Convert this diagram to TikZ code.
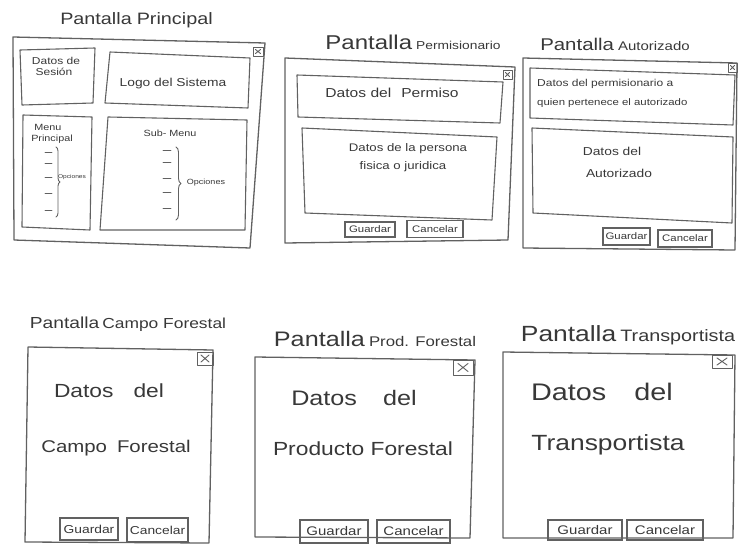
\documentclass[tikz,border=0pt]{standalone}
\usepackage{fontspec}
\newfontfamily\hand[FakeStretch=1.2]{Liberation Sans}
\usetikzlibrary{decorations.pathreplacing}
\tikzset{
  ink/.style={draw=black!62, line width=1.1pt, line join=round, line cap=round},
  win/.style={ink, line width=1.3pt},
  fz/.style={font=\hand\fontsize{#1}{#1}\selectfont},
  txt/.style={text=black!78, inner sep=0pt},
  btn/.style={draw=black!62, line width=1.1pt, inner sep=0pt, text=black!78},
  closebox/.style={ink, line width=0.9pt},
}
\begin{document}
\begin{tikzpicture}[x=1pt,y=-1pt]
\useasboundingbox (0,0) rectangle (747,551);

% ---------- Panel 1: Pantalla Principal ----------
\node[txt, fz=16.5, anchor=base] (t1) at (136.5,25) {Pantalla\hspace{5pt}Principal};
\draw[win] (13,37) -- (265,43) -- (250,248) -- (14,240) -- cycle;
\draw[closebox] (253,47) rectangle (263,56);
\draw[closebox] (255.5,49.5) -- (260.5,53.5) (255.5,53.5) -- (260.5,49.5);
\draw[ink] (20,50) -- (95,48) -- (93,103) -- (22,105) -- cycle;
\draw[ink] (110,52) -- (250,58) -- (248,108) -- (105,103) -- cycle;
\draw[ink] (23,115) -- (92,117) -- (90,230) -- (22,227) -- cycle;
\draw[ink] (108,117) -- (247,120) -- (245,230) -- (100,230) -- cycle;
\node[txt, fz=10] (ses1) at (56,64) [anchor=base] {Datos de};
\node[txt, fz=10] (ses2) at (54,76) [anchor=base] {Sesión};
\node[txt, fz=11.5] (logo) at (173,87) [anchor=base] {Logo del Sistema};
\node[txt, fz=9] (menu1) at (48,130) [anchor=base] {Menu};
\node[txt, fz=9] (menu2) at (52,141) [anchor=base] {Principal};
\node[txt, fz=9] (sub) at (170,136) [anchor=base] {Sub- Menu};
\foreach \y in {152,163,177,193,210} \draw[ink, line width=0.9pt] (45,\y) -- (52,\y);
\foreach \y in {150,162,178,192,208} \draw[ink, line width=0.9pt] (163,\y) -- (171,\y);
\draw[ink, line width=0.9pt, decorate, decoration={brace, amplitude=4pt}] (56,147) -- (56,217);
\draw[ink, line width=0.9pt, decorate, decoration={brace, amplitude=5pt}] (176,147) -- (176,220);
\node[txt, fz=5.5] (op1) at (72,177) {Opciones};
\node[txt, fz=7.5] (op2) at (206,183) {Opciones};

% ---------- Panel 2: Pantalla Permisionario ----------
\node[txt, anchor=base] (t2) at (413,49) {\hand\fontsize{20}{20}\selectfont Pantalla\hspace{4pt}\fontsize{11.5}{11.5}\selectfont Permisionario};
\draw[win] (285,58) -- (515,67) -- (508,240) -- (285,243) -- cycle;
\draw[closebox] (503,70) rectangle (512,79);
\draw[closebox] (505.5,72.5) -- (509.5,76.5) (505.5,76.5) -- (509.5,72.5);
\draw[ink] (297,75) -- (503,82) -- (500,123) -- (298,117) -- cycle;
\draw[ink] (302,128) -- (497,137) -- (492,220) -- (305,213) -- cycle;
\node[txt, fz=13, anchor=base] (perm) at (392,97) {Datos del\hspace{10pt}Permiso};
\node[txt, fz=11, anchor=base] (pers1) at (408,151) {Datos de la persona};
\node[txt, fz=11, anchor=base] (pers2) at (403,169) {fisica o juridica};
\node[btn, fz=9.5, minimum width=50pt, minimum height=15pt] (g2) at (370,229.5) {Guardar};
\node[btn, fz=9.5, minimum width=56pt, minimum height=17pt] (c2) at (435,229) {Cancelar};

% ---------- Panel 3: Pantalla Autorizado ----------
\node[txt, anchor=base] (t3) at (615,51) {\hand\fontsize{17}{17}\selectfont Pantalla\hspace{4pt}\fontsize{12.5}{12.5}\selectfont Autorizado};
\draw[win] (523,58) -- (737,63) -- (735,250) -- (523,248) -- cycle;
\draw[closebox] (728,63) rectangle (737,72);
\draw[closebox] (730.5,65.5) -- (734.5,69.5) (730.5,69.5) -- (734.5,65.5);
\draw[ink] (530,68) -- (735,75) -- (733,125) -- (530,118) -- cycle;
\draw[ink] (532,128) -- (733,137) -- (732,223) -- (533,213) -- cycle;
\node[txt, fz=10, anchor=base west] (aut1) at (537,86) {Datos del permisionario a};
\node[txt, fz=9.5, anchor=base west] (aut2) at (537,106) {quien pertenece el autorizado};
\node[txt, fz=11.5, anchor=base] (aut3) at (612,155) {Datos del};
\node[txt, fz=11.5, anchor=base] (aut4) at (619,177) {Autorizado};
\node[btn, fz=9.5, minimum width=47pt, minimum height=17pt] (g3) at (626.5,236.5) {Guardar};
\node[btn, fz=9.5, minimum width=54pt, minimum height=17pt] (c3) at (685,238.5) {Cancelar};

% ---------- Panel 4: Pantalla Campo Forestal ----------
\node[txt, anchor=base] (t4) at (128,328) {\hand\fontsize{16}{16}\selectfont Pantalla\hspace{3pt}\fontsize{14.5}{14.5}\selectfont Campo Forestal};
\draw[win] (28,347) -- (213,350) -- (209,543) -- (25,542) -- cycle;
\draw[closebox] (197,352) rectangle (213,365);
\draw[closebox] (201,355) -- (209,362) (201,362) -- (209,355);
\node[txt, fz=19, anchor=base] (cf1) at (109,397) {Datos\hspace{20pt}del};
\node[txt, fz=17, anchor=base] (cf2) at (116,452) {Campo\hspace{10pt}Forestal};
\node[btn, fz=11.5, minimum width=58pt, minimum height=22pt] (g4) at (89,529) {Guardar};
\node[btn, fz=11.5, minimum width=61pt, minimum height=24pt] (c4) at (157.5,530) {Cancelar};

% ---------- Panel 5: Pantalla Prod. Forestal ----------
\node[txt, anchor=base] (t5) at (375,346) {\hand\fontsize{21}{21}\selectfont Pantalla\hspace{4pt}\fontsize{14}{14}\selectfont Prod. Forestal};
\draw[win] (255,357) -- (475,360) -- (470,538) -- (255,537) -- cycle;
\draw[closebox] (453,360) rectangle (473,375);
\draw[closebox] (458,363.5) -- (468,371.5) (458,371.5) -- (468,363.5);
\node[txt, fz=21, anchor=base] (pf1) at (354,405) {Datos\hspace{26pt}del};
\node[txt, fz=19, anchor=base] (pf2) at (363,455) {Producto Forestal};
\node[btn, fz=12.5, minimum width=68pt, minimum height=23pt] (g5) at (334,531.5) {Guardar};
\node[btn, fz=12.5, minimum width=73pt, minimum height=23pt] (c5) at (413.5,531.5) {Cancelar};

% ---------- Panel 6: Pantalla Transportista ----------
\node[txt, anchor=base] (t6) at (628,341) {\hand\fontsize{22}{22}\selectfont Pantalla\hspace{4pt}\fontsize{16.5}{16.5}\selectfont Transportista};
\draw[win] (503,352) -- (735,355) -- (733,538) -- (503,538) -- cycle;
\draw[closebox] (712,355) rectangle (732,368);
\draw[closebox] (717,358) -- (727,365) (717,365) -- (727,358);
\node[txt, fz=24, anchor=base] (tr1) at (602,400) {Datos\hspace{28pt}del};
\node[txt, fz=22, anchor=base] (tr2) at (608,450) {Transportista};
\node[btn, fz=12.5, minimum width=74pt, minimum height=20pt] (g6) at (585,530) {Guardar};
\node[btn, fz=12.5, minimum width=76pt, minimum height=20pt] (c6) at (665,530) {Cancelar};
\end{tikzpicture}
\end{document}
